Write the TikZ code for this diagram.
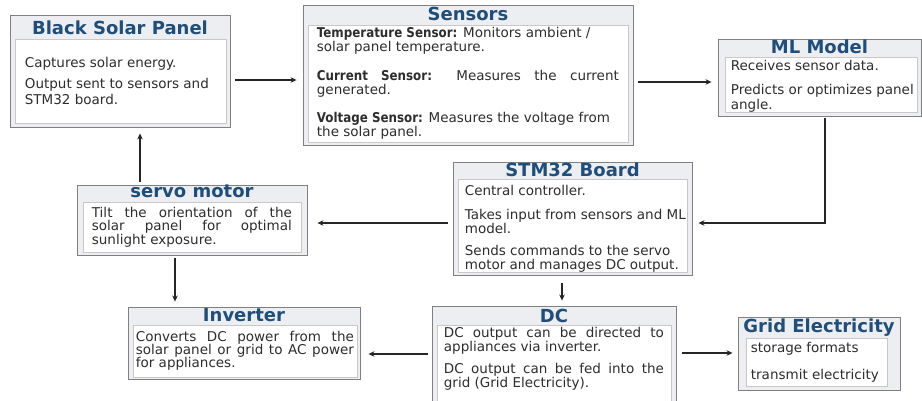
\documentclass[tikz,border=0pt]{standalone}
\usepackage{fontspec}
\setmainfont{DejaVu Sans}
\newfontfamily\keyfont{DejaVu Sans}[FakeStretch=0.88]
\usetikzlibrary{arrows.meta, positioning, calc}

\definecolor{titleblue}{RGB}{30,78,121}
\definecolor{panelgray}{RGB}{236,238,241}
\definecolor{panelline}{RGB}{128,128,128}
\definecolor{bodyline}{RGB}{200,200,200}
\definecolor{bodytext}{RGB}{45,45,45}

\newcommand{\keyword}[1]{{\keyfont\bfseries #1}}

\tikzset{
    panel/.style={rectangle, draw=panelline, fill=panelgray, line width=0.9pt, inner sep=0pt},
    paneltitle/.style={anchor=base, inner sep=0pt, text=titleblue, font=\fontsize{18}{20}\selectfont\bfseries},
    panelbody/.style={rectangle, anchor=north west, draw=bodyline, fill=white, line width=0.7pt,
        inner ysep=0pt, align=justify, text=bodytext, font=\fontsize{13.5}{14.5}\selectfont},
    flow/.style={-{Stealth[length=6pt, width=5.5pt]}, line width=1.1pt, draw=black!85},
}

\begin{document}
\begin{tikzpicture}[x=1pt, y=-1pt]
    \useasboundingbox (0,0) rectangle (922,400);
    \fill[white] (0,0) rectangle (922,400);

    % top row
    \node[panel, minimum width=220pt, minimum height=112pt] (solar) at (120,71) {};
    \node[paneltitle] (solar_title) at ($(solar.north)+(0,20)$) {Black Solar Panel};
    \node[panelbody, minimum width=211pt, minimum height=84pt, text width=191pt, inner xsep=10pt, font=\fontsize{13.5}{15.5}\selectfont] (solar_body) at ($(solar.north west)+(5,24)$) {Captures solar energy.\\[6pt]
        Output sent to sensors and\\ STM32 board.};

    \node[panel, minimum width=330pt, minimum height=140pt] (sensors) at (468,75) {};
    \node[paneltitle] (sensors_title) at ($(sensors.north)+(0,16)$) {Sensors};
    \node[panelbody, minimum width=320pt, minimum height=117pt, text width=302pt, inner xsep=9pt] (sensors_body) at ($(sensors.north west)+(5,20)$) {\keyword{Temperature Sensor:} Monitors ambient /\\ solar panel temperature.\\[14pt]
        \keyword{Current Sensor:} Measures the current\linebreak generated.\\[13pt]
        \keyword{Voltage Sensor:} Measures the voltage from\\ the solar panel.};

    \node[panel, minimum width=203pt, minimum height=77pt] (ml) at (819.5,77.5) {};
    \node[paneltitle] (ml_title) at ($(ml.north)+(0,15)$) {ML Model};
    \node[panelbody, minimum width=192pt, minimum height=55pt, text width=180pt, inner xsep=6pt] (ml_body) at ($(ml.north west)+(7,18)$) {Receives sensor data.\\[10pt]
        \mbox{Predicts or optimizes panel}\\ angle.\par\vspace*{-3pt}};

    % middle row
    \node[panel, minimum width=230pt, minimum height=70pt] (servo) at (192,220) {};
    \node[paneltitle] (servo_title) at ($(servo.north)+(0,13)$) {servo motor};
    \node[panelbody, minimum width=218pt, minimum height=50pt, text width=200pt, inner xsep=9pt, font=\fontsize{13.5}{13.5}\selectfont] (servo_body) at ($(servo.north west)+(6,17)$) {Tilt the orientation of the\linebreak
        solar panel for optimal\linebreak sunlight exposure.};

    \node[panel, minimum width=239pt, minimum height=113pt] (stm) at (572.5,218.5) {};
    \node[paneltitle] (stm_title) at ($(stm.north)+(0,15)$) {STM32 Board};
    \node[panelbody, minimum width=229pt, minimum height=93pt, text width=215pt, inner xsep=7pt, font=\fontsize{13.5}{14}\selectfont] (stm_body) at ($(stm.north west)+(5,17)$) {Central controller.\\[10pt]
        \mbox{Takes input from sensors and ML}\\ model.\\[8pt]
        Sends commands to the servo\\ motor and manages DC output.\par\vspace*{-7pt}};

    % bottom row
    \node[panel, minimum width=232pt, minimum height=72pt] (inverter) at (244,343) {};
    \node[paneltitle] (inverter_title) at ($(inverter.north)+(0,15)$) {Inverter};
    \node[panelbody, minimum width=224pt, minimum height=52pt, text width=218pt, inner xsep=3pt, font=\fontsize{13.5}{13.2}\selectfont] (inverter_body) at ($(inverter.north west)+(5,18)$) {Converts DC power from the\linebreak
        solar panel or grid to AC power\linebreak for appliances.};

    \node[panel, minimum width=244pt, minimum height=106pt] (dc) at (554,359) {};
    \node[paneltitle] (dc_title) at ($(dc.north)+(0,17)$) {DC};
    \node[panelbody, minimum width=234pt, minimum height=83pt, text width=220pt, inner xsep=7pt, font=\fontsize{13.5}{14}\selectfont] (dc_body) at ($(dc.north west)+(5,19)$) {DC output can be directed to\linebreak
        appliances via inverter.\\[8pt]
        DC output can be fed into the\linebreak grid (Grid Electricity).\par\vspace*{15pt}};

    \node[panel, minimum width=162pt, minimum height=73pt] (grid) at (819,353.5) {};
    \node[paneltitle] (grid_title) at ($(grid.north)+(0,15.5)$) {Grid Electricity};
    \node[panelbody, minimum width=141pt, minimum height=48pt, text width=131pt, inner xsep=5pt] (grid_body) at ($(grid.north west)+(8,21)$) {storage formats\\[12.5pt] transmit electricity};

    % connectors
    \coordinate (row_a) at (0,80);
    \coordinate (row_b) at (0,82);
    \coordinate (ml_turn) at (825,223);
    \coordinate (row_c) at (0,354);
    \coordinate (row_d) at (0,353);
    \coordinate (col_a) at (140,0);
    \coordinate (col_b) at (175,0);
    \coordinate (col_c) at (562,0);

    \draw[flow, shorten <=5pt, shorten >=6pt] (solar.east |- row_a) -- (sensors.west |- row_a);
    \draw[flow, shorten <=5pt, shorten >=6pt] (sensors.east |- row_b) -- (ml.west |- row_b);
    \draw[flow, shorten <=2pt, shorten >=6pt] (ml.south -| ml_turn) -- (ml_turn) -- (stm.east |- ml_turn);
    \draw[flow, shorten <=5pt, shorten >=10pt] (stm.west |- ml_turn) -- (servo.east |- ml_turn);
    \draw[flow, shorten <=3pt, shorten >=6pt] (servo.north -| col_a) -- (solar.south -| col_a);
    \draw[flow, shorten <=3pt, shorten >=5pt] (servo.south -| col_b) -- (inverter.north -| col_b);
    \draw[flow, shorten <=8pt, shorten >=5pt] (stm.south -| col_c) -- (dc.north -| col_c);
    \draw[flow, shorten <=4pt, shorten >=8pt] (dc.west |- row_c) -- (inverter.east |- row_c);
    \draw[flow, shorten <=6pt, shorten >=5pt] (dc.east |- row_d) -- (grid.west |- row_d);
\end{tikzpicture}
\end{document}
